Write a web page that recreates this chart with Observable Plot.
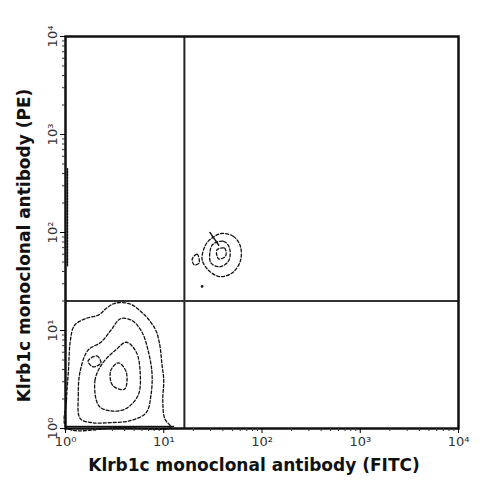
<!DOCTYPE html>
<html><head><meta charset="utf-8">
<script src="https://cdn.jsdelivr.net/npm/d3@7"></script>
<script src="https://cdn.jsdelivr.net/npm/@observablehq/plot@0.6"></script>
<style>
body{margin:0;background:#fff;}
#chart svg{display:block;}
</style>
</head><body><div id="chart"></div>
<script>
// Axis settings (values are powers of ten)
const majorTicks = [1, 10, 100, 1000, 10000];
const tickLabels = ["10\u2070", "10\u00b9", "10\u00b2", "10\u00b3", "10\u2074"];
const xLabel = "Klrb1c monoclonal antibody (FITC)";
const yLabel = "Klrb1c monoclonal antibody (PE)";

// Quadrant gates (log10 of channel value)
const gateX = 1.21;
const gateY = 1.30;

// Contour lines, points as [log10 FITC, log10 PE]
const lowLeftOuter = [[0.01,0.01],[0.01,0.29],[0.03,0.59],[0.05,0.90],[0.09,1.05],[0.20,1.12],[0.34,1.16],[0.42,1.23],[0.51,1.28],[0.66,1.27],[0.76,1.20],[0.84,1.12],[0.92,1.00],[0.96,0.85],[0.98,0.67],[1.00,0.49],[0.99,0.29],[1.01,0.10],[1.07,0.01],[0.56,0.01]];
const lowLeftMid = [[0.15,0.10],[0.13,0.34],[0.15,0.59],[0.23,0.80],[0.36,0.88],[0.46,1.00],[0.56,1.12],[0.68,1.10],[0.78,0.98],[0.84,0.80],[0.88,0.57],[0.87,0.34],[0.82,0.16],[0.66,0.08],[0.46,0.06],[0.27,0.06]];
const lowLeftInner = [[0.34,0.23],[0.30,0.49],[0.38,0.67],[0.51,0.80],[0.62,0.88],[0.72,0.78],[0.76,0.57],[0.74,0.34],[0.61,0.20],[0.46,0.18]];
const lowLeftCore = [[0.48,0.44],[0.46,0.59],[0.54,0.67],[0.62,0.57],[0.60,0.40]];
const lowLeftSide = [[0.23,0.69],[0.32,0.74],[0.36,0.67],[0.28,0.63]];
const upRightOuter = [[1.59,1.99],[1.71,1.96],[1.78,1.86],[1.78,1.71],[1.70,1.59],[1.57,1.55],[1.45,1.62],[1.39,1.73],[1.43,1.88],[1.50,1.95]];
const upRightMid = [[1.50,1.88],[1.61,1.91],[1.67,1.84],[1.66,1.71],[1.57,1.65],[1.48,1.69],[1.47,1.80]];
const upRightCore = [[1.54,1.82],[1.62,1.84],[1.63,1.76],[1.56,1.73]];
const upRightBlob = [[1.29,1.73],[1.34,1.78],[1.36,1.69],[1.31,1.67]];
// open strokes
const upRightTail = [[1.47,2.00],[1.56,1.87]];
const axisSmearY = [[0.02,1.66],[0.02,2.65]];
const axisSmearX = [[0.01,0.02],[1.10,0.02]];
// single event
const lonePoint = [[1.39,1.45]];

const closed = {lowLeftOuter, lowLeftMid, lowLeftInner, lowLeftCore, lowLeftSide, upRightOuter, upRightMid, upRightCore, upRightBlob};
const open = {upRightTail, axisSmearY, axisSmearX};
const toRows = (obj) => Object.entries(obj).flatMap(([id, pts]) => pts.map(([lx, ly]) => ({id, x: 10 ** lx, y: 10 ** ly})));
const closedRows = toRows(closed);
const openRows = toRows(open);

const minor = [];
for (let d = 0; d < 4; d++) for (let k = 2; k <= 9; k++) minor.push(k * 10 ** d);

const fmt = d => tickLabels[Math.round(Math.log10(d))];
const font = "'DejaVu Sans', sans-serif";

const chart = Plot.plot({
  width: 482,
  height: 484,
  marginLeft: 65,
  marginRight: 24,
  marginTop: 36,
  marginBottom: 56,
  style: {fontFamily: font, background: "#fff"},
  x: {type: "log", domain: [1, 10000]},
  y: {type: "log", domain: [1, 10000]},
  marks: [
    Plot.line(closedRows, {x: "x", y: "y", z: "id", curve: "catmull-rom-closed", stroke: "#111", strokeWidth: 1.3, strokeDasharray: "3,2"}),
    Plot.line(openRows, {x: "x", y: "y", z: "id", stroke: "#111", strokeWidth: 1.5, strokeDasharray: "2,1"}),
    Plot.dot(lonePoint, {x: d => 10 ** d[0], y: d => 10 ** d[1], r: 1.3, fill: "#111"}),
    Plot.ruleX([10 ** gateX], {stroke: "#222", strokeWidth: 2}),
    Plot.ruleY([10 ** gateY], {stroke: "#333", strokeWidth: 2}),
    Plot.frame({stroke: "#111", strokeWidth: 2.5}),
    Plot.axisX(minor, {tickSize: 3, text: null, label: null, stroke: "#333"}),
    Plot.axisY(minor, {tickSize: 3, text: null, label: null, stroke: "#333"}),
    Plot.axisX(majorTicks, {tickSize: 5, tickPadding: 3, tickFormat: fmt, fontSize: 13, fill: "#333", label: null}),
    Plot.axisY(majorTicks, {tickSize: 5, tickPadding: 4, tickRotate: -90, tickFormat: fmt, fontSize: 13, fill: "#333", label: null}),
    Plot.text([xLabel], {frameAnchor: "bottom", textAnchor: "middle", dy: 42, dx: -8, fontSize: 17, fontWeight: "bold", fill: "#111"}),
    Plot.text([yLabel], {frameAnchor: "left", textAnchor: "middle", dx: -41, dy: 13, rotate: -90, fontSize: 17, fontWeight: "bold", fill: "#111"})
  ]
});
document.getElementById("chart").appendChild(chart);
</script></body></html>
